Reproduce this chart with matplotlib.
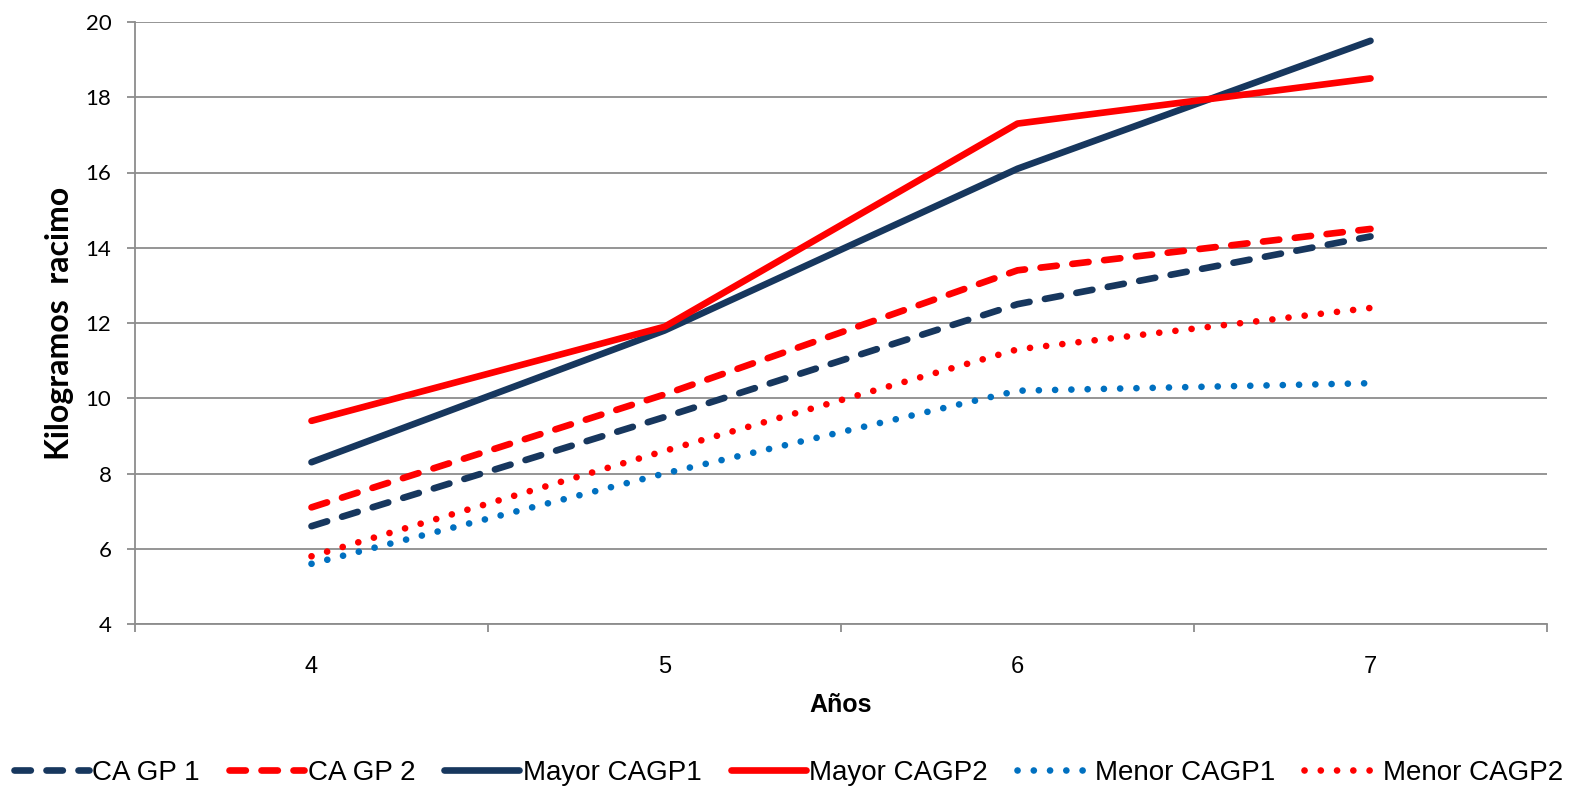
import matplotlib
matplotlib.use("Agg")
import matplotlib.pyplot as plt

# Data
years = ["4", "5", "6", "7"]
ca_gp1 = [6.6, 9.5, 12.5, 14.3]
ca_gp2 = [7.1, 10.1, 13.4, 14.5]
mayor_cagp1 = [8.3, 11.8, 16.1, 19.5]
mayor_cagp2 = [9.4, 11.9, 17.3, 18.5]
menor_cagp1 = [5.6, 8.0, 10.2, 10.4]
menor_cagp2 = [5.8, 8.6, 11.3, 12.4]
yticks = [4, 6, 8, 10, 12, 14, 16, 18, 20]

NAVY = "#17375E"
RED = "#FF0000"
BLUE = "#0070C0"
GRID = "#8C8C8C"

plt.rcParams["font.family"] = ["Liberation Sans", "DejaVu Sans"]

fig = plt.figure(figsize=(15.77, 7.94), dpi=100)
ax = fig.add_axes([135 / 1577, 1 - 624 / 794, (1547 - 135) / 1577, (624 - 22) / 794])

x = list(range(len(years)))
lw = 4.8
dash = (0, (2.45, 2.35))
dot = (0, (0.01, 2.43))

series = [
    ("CA GP 1", ca_gp1, NAVY, dash),
    ("CA GP 2", ca_gp2, RED, dash),
    ("Mayor CAGP1", mayor_cagp1, NAVY, "-"),
    ("Mayor CAGP2", mayor_cagp2, RED, "-"),
    ("Menor CAGP1", menor_cagp1, BLUE, dot),
    ("Menor CAGP2", menor_cagp2, RED, dot),
]

handles = []
for name, vals, col, ls in series:
    line, = ax.plot(x, vals, color=col, lw=lw, linestyle=ls,
                    dash_capstyle="round", solid_capstyle="round",
                    solid_joinstyle="round", label=name, zorder=3)
    handles.append(line)

ax.set_xlim(-0.5, len(years) - 0.5)
ax.set_ylim(4, 20)
ax.set_yticks(yticks)
ax.set_yticklabels([str(v) for v in yticks], fontsize=16, family=["Lato", "DejaVu Sans"])

# category boundaries carry the tick marks; labels sit at the centers
ax.set_xticks([i - 0.5 for i in range(len(years) + 1)])
ax.set_xticklabels([""] * (len(years) + 1))
ax.set_xticks(x, minor=True)
ax.set_xticklabels(years, minor=True, fontsize=17)
ax.tick_params(axis="x", which="minor", length=0, pad=23)
ax.tick_params(axis="x", which="major", length=6, width=1.3, color=GRID, direction="out")
ax.tick_params(axis="y", length=6, width=1.3, color=GRID, direction="out", pad=11)

ax.yaxis.grid(True, color=GRID, lw=1.3)
ax.set_axisbelow(True)
for s in ("top", "right"):
    ax.spines[s].set_visible(False)
for s in ("left", "bottom"):
    ax.spines[s].set_color(GRID)
    ax.spines[s].set_linewidth(1.3)

ax.set_xlabel("Años", fontsize=18, fontweight="bold", labelpad=11)
ax.set_ylabel("Kilogramos  racimo", fontsize=23, fontweight="bold", labelpad=8,
              family=["Lato", "DejaVu Sans"])

fig.legend(handles=handles, loc="center", bbox_to_anchor=(0.5, 1 - 773 / 794),
           ncol=6, frameon=False, handlelength=2.7, handletextpad=0.12,
           columnspacing=1.05, borderaxespad=0,
           prop={"family": ["Liberation Sans", "DejaVu Sans"], "size": 20})

fig.savefig("out.png", dpi=100)
